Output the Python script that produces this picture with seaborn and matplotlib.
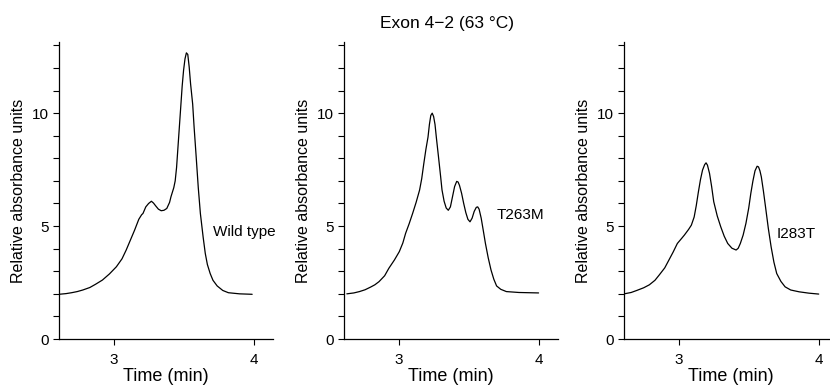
"""Chromatogram panels, exon 4-2 at 63 C."""

import matplotlib
matplotlib.use("Agg")
import matplotlib.pyplot as plt
from matplotlib.ticker import MultipleLocator
import pandas as pd
import seaborn as sns

# values
wt_time = [2.61, 2.66, 2.70, 2.74, 2.78, 2.83, 2.87, 2.92, 2.97, 3.02,
           3.06, 3.09, 3.12, 3.15, 3.18, 3.20, 3.21, 3.23, 3.25, 3.27,
           3.285, 3.30, 3.32, 3.34, 3.36, 3.38, 3.40, 3.41, 3.43, 3.44,
           3.45, 3.46, 3.47, 3.48, 3.49, 3.50, 3.51, 3.52, 3.53, 3.54,
           3.55, 3.565, 3.575, 3.59, 3.605, 3.62, 3.64, 3.655, 3.67, 3.69,
           3.71, 3.74, 3.78, 3.82, 3.90, 3.99]
wt_abs = [1.98, 2.01, 2.05, 2.10, 2.17, 2.28, 2.42, 2.61, 2.88, 3.2,
          3.55, 3.94, 4.38, 4.82, 5.3, 5.5, 5.56, 5.85, 6.0, 6.1,
          6.02, 5.9, 5.75, 5.68, 5.7, 5.78, 6.05, 6.3, 6.7, 7.0,
          7.6, 8.5, 9.4, 10.3, 11.2, 11.9, 12.4, 12.67, 12.6, 12.05,
          11.3, 10.4, 9.4, 8.07, 6.7, 5.56, 4.5, 3.79, 3.3, 2.9,
          2.6, 2.35, 2.15, 2.05, 2.0, 1.98]

t263m_time = [2.63, 2.68, 2.72, 2.76, 2.80, 2.83, 2.86, 2.90, 2.93, 2.97,
              3.005, 3.03, 3.05, 3.075, 3.10, 3.125, 3.15, 3.165, 3.18, 3.195,
              3.21, 3.22, 3.23, 3.24, 3.25, 3.26, 3.27, 3.285, 3.30, 3.31,
              3.325, 3.34, 3.355, 3.37, 3.385, 3.40, 3.415, 3.425, 3.435, 3.45,
              3.465, 3.48, 3.495, 3.51, 3.525, 3.54, 3.555, 3.565, 3.575, 3.59,
              3.605, 3.62, 3.64, 3.66, 3.68, 3.70, 3.73, 3.77, 3.86, 4.0]
t263m_abs = [2.0, 2.04, 2.1, 2.18, 2.3, 2.4, 2.54, 2.8, 3.13, 3.5,
             3.87, 4.25, 4.68, 5.1, 5.56, 6.05, 6.6, 7.1, 7.77, 8.4,
             8.94, 9.5, 9.9, 10.0, 9.85, 9.5, 8.9, 8.06, 7.2, 6.6,
             6.1, 5.8, 5.7, 5.85, 6.3, 6.75, 6.98, 6.95, 6.8, 6.45,
             6.0, 5.6, 5.3, 5.19, 5.35, 5.65, 5.83, 5.85, 5.75, 5.35,
             4.8, 4.24, 3.6, 3.06, 2.65, 2.35, 2.2, 2.1, 2.06, 2.04]

i283t_time = [2.61, 2.66, 2.70, 2.75, 2.79, 2.83, 2.86, 2.90, 2.93, 2.96,
              2.99, 3.02, 3.04, 3.07, 3.09, 3.11, 3.125, 3.14, 3.155, 3.17,
              3.185, 3.195, 3.205, 3.22, 3.235, 3.25, 3.275, 3.30, 3.325, 3.35,
              3.38, 3.41, 3.425, 3.44, 3.46, 3.48, 3.50, 3.515, 3.53, 3.545,
              3.56, 3.57, 3.58, 3.59, 3.605, 3.62, 3.64, 3.66, 3.68, 3.70,
              3.73, 3.76, 3.80, 3.86, 3.93, 4.0]
i283t_abs = [2.0, 2.06, 2.15, 2.27, 2.4, 2.6, 2.83, 3.15, 3.5, 3.85,
             4.23, 4.45, 4.6, 4.85, 5.04, 5.4, 5.9, 6.5, 7.05, 7.48,
             7.72, 7.8, 7.7, 7.33, 6.75, 6.08, 5.45, 4.97, 4.55, 4.23,
             4.02, 3.94, 4.02, 4.23, 4.6, 5.12, 5.8, 6.45, 7.0, 7.45,
             7.65, 7.62, 7.45, 7.18, 6.55, 5.85, 4.9, 4.08, 3.4, 2.9,
             2.55, 2.31, 2.17, 2.09, 2.03, 1.99]

labels = ["Wild type", "T263M", "I283T"]
label_pos = [(3.71, 4.75), (3.70, 5.5), (3.70, 4.65)]

sns.set_style("ticks")
plt.rcParams["font.family"] = ["Liberation Sans", "DejaVu Sans"]
for key in ["text.color", "axes.labelcolor", "xtick.color", "ytick.color",
            "axes.edgecolor"]:
    plt.rcParams[key] = "black"

fig = plt.figure(figsize=(8.3, 3.89), dpi=100)
lefts = [0.0711, 0.4145, 0.752]
series = [(wt_time, wt_abs), (t263m_time, t263m_abs), (i283t_time, i283t_abs)]

for left, (times, values), name, (tx, ty) in zip(lefts, series, labels, label_pos):
    ax = fig.add_axes([left, 0.1285, 0.258, 0.7635])
    frame = pd.DataFrame({"time": times, "absorbance": values})
    sns.lineplot(data=frame, x="time", y="absorbance", ax=ax, color="black",
                 linewidth=0.9, sort=False, estimator=None)
    ax.set_xlim(2.61, 4.14)
    ax.set_ylim(0, 13.15)
    ax.set_xticks([3, 4])
    ax.yaxis.set_major_locator(MultipleLocator(5))
    ax.yaxis.set_minor_locator(MultipleLocator(1))
    ax.tick_params(axis="both", which="both", direction="out", length=4,
                   width=0.8, color="black", labelsize=11)
    ax.tick_params(axis="x", pad=6)
    ax.tick_params(axis="y", pad=3.5)
    for side in ["top", "right"]:
        ax.spines[side].set_visible(False)
    for side in ["left", "bottom"]:
        ax.spines[side].set_linewidth(0.9)
    ax.set_xlabel("Time (min)", fontsize=13, labelpad=1)
    ax.set_ylabel("Relative absorbance units", fontsize=11.5)
    ax.text(tx, ty, name, fontsize=11, ha="left", va="center")

fig.text(0.539, 0.94, "Exon 4\u22122 (63 \u00b0C)", fontsize=12.5,
         ha="center", va="center")

fig.savefig("out.png", dpi=100)
plt.close(fig)
